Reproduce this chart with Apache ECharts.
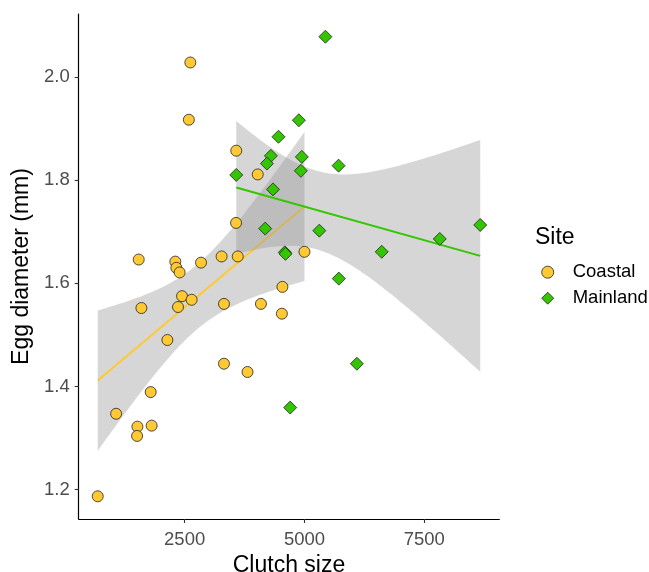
<!DOCTYPE html>
<html>
<head>
<meta charset="utf-8">
<script src="https://cdn.jsdelivr.net/npm/echarts@6/dist/echarts.min.js"></script>
<style>
html,body{margin:0;padding:0;background:#fff;}
#chart{width:649px;height:572px;}
</style>
</head>
<body>
<div id="chart"></div>
<script>
// ---- data ----
const coastalX = [687,1071,1515,1508,1812,1792,1598,2140,2362,2446,2646,1542,2306,2327,2396,2842,3271,3608,3577,4025,3573,5000,4540,2619,2588,3321,4092,4529,3321,3812];
const coastalY = [1.187,1.347,1.322,1.304,1.324,1.389,1.552,1.490,1.554,1.575,1.568,1.646,1.642,1.630,1.621,1.640,1.652,1.652,1.857,1.811,1.717,1.661,1.593,2.028,1.917,1.560,1.560,1.541,1.444,1.428];
const mainlandX = [5437,4883,4458,4300,4217,4946,4925,3577,4344,4181,5310,4592,4604,5712,6612,7823,8667,5717,6094,4702];
const mainlandY = [2.078,1.916,1.884,1.847,1.832,1.845,1.818,1.810,1.782,1.706,1.702,1.660,1.657,1.828,1.661,1.686,1.713,1.609,1.444,1.359];
const xTicks = [2500,5000,7500];
const yTicks = [1.2,1.4,1.6,1.8,2.0];
const siteNames = ['Coastal','Mainland'];

// ---- linear model with 95% confidence band (like geom_smooth(method = "lm")) ----
function tq(df){
  const z=1.959964;
  const g1=(Math.pow(z,3)+z)/4;
  const g2=(5*Math.pow(z,5)+16*Math.pow(z,3)+3*z)/96;
  const g3=(3*Math.pow(z,7)+19*Math.pow(z,5)+17*Math.pow(z,3)-15*z)/384;
  return z+g1/df+g2/(df*df)+g3/(df*df*df);
}
function fitLM(xs, ys){
  const n=xs.length;
  const mx=xs.reduce((a,b)=>a+b,0)/n, my=ys.reduce((a,b)=>a+b,0)/n;
  let sxx=0,sxy=0;
  for(let i=0;i<n;i++){sxx+=(xs[i]-mx)**2; sxy+=(xs[i]-mx)*(ys[i]-my);}
  const b=sxy/sxx, a=my-b*mx;
  let sse=0; for(let i=0;i<n;i++){sse+=(ys[i]-a-b*xs[i])**2;}
  const s=Math.sqrt(sse/(n-2)), t=tq(n-2);
  const x0=Math.min(...xs), x1=Math.max(...xs);
  const upper=[], lower=[];
  const N=80;
  for(let k=0;k<N;k++){
    const x=x0+(x1-x0)*k/(N-1);
    const f=a+b*x;
    const se=s*Math.sqrt(1/n+(x-mx)**2/sxx);
    upper.push([x,f+t*se]); lower.push([x,f-t*se]);
  }
  return {line:[[x0,a+b*x0],[x1,a+b*x1]], upper, lower, x0, my};
}
const fitC = fitLM(coastalX, coastalY);
const fitM = fitLM(mainlandX, mainlandY);

const colC = '#FFC933', colM = '#33C600';
const font = "'Liberation Sans', Arial, sans-serif";

function bandSeries(fit, z){
  return {
    type:'custom', z:z, silent:true, clip:true,
    data:[[fit.x0, fit.my]],
    renderItem:function(params, api){
      const pts = fit.upper.map(p=>api.coord(p)).concat(fit.lower.slice().reverse().map(p=>api.coord(p)));
      return {type:'polygon', shape:{points:pts}, style:{fill:'rgba(153,153,153,0.4)'}};
    }
  };
}
function zip(xs, ys){ return xs.map((x,i)=>[x, ys[i]]); }

const chart = echarts.init(document.getElementById('chart'), null, {renderer:'canvas'});
chart.setOption({
  animation:false,
  backgroundColor:'#fff',
  textStyle:{fontFamily:font},
  grid:{left:78.7, top:14, width:420.6, height:505, containLabel:false, outerBoundsMode:'none'},
  title:{text:'Site', left:535, top:226, padding:0, textStyle:{fontFamily:font, fontSize:23, fontWeight:'normal', color:'#000'}},
  legend:{
    data:siteNames, orient:'vertical', left:541.3, top:262.7, padding:0,
    itemWidth:12, itemHeight:12, itemGap:7,
    itemStyle:{borderWidth:0.8, borderColor:'#222'},
    textStyle:{fontFamily:font, fontSize:18.5, color:'#000', lineHeight:18, padding:[0,0,0,14]}
  },
  xAxis:{
    type:'value', min:290, max:9065,
    name:'Clutch size', nameLocation:'middle', nameGap:33,
    nameTextStyle:{fontFamily:font, fontSize:23, color:'#000'},
    axisLine:{show:true, lineStyle:{color:'#000', width:1.2}},
    axisTick:{show:true, customValues:xTicks, length:4, lineStyle:{color:'#333', width:1.1}},
    axisLabel:{customValues:xTicks, color:'#4d4d4d', fontSize:18.5, margin:11, fontFamily:font, formatter:v=>String(v)},
    splitLine:{show:false}
  },
  yAxis:{
    type:'value', min:1.143, max:2.122,
    name:'Egg diameter (mm)', nameLocation:'middle', nameGap:46, nameRotate:90,
    nameTextStyle:{fontFamily:font, fontSize:23, color:'#000'},
    axisLine:{show:true, lineStyle:{color:'#000', width:1.2}},
    axisTick:{show:true, customValues:yTicks, length:4, lineStyle:{color:'#333', width:1.1}},
    axisLabel:{customValues:yTicks, color:'#4d4d4d', fontSize:18.5, margin:9, fontFamily:font, formatter:v=>v.toFixed(1)},
    splitLine:{show:false}
  },
  series:[
    bandSeries(fitC, 1),
    {name:'fitC', type:'line', z:2, data:fitC.line, showSymbol:false, silent:true, lineStyle:{color:colC, width:2}},
    bandSeries(fitM, 3),
    {name:'fitM', type:'line', z:4, data:fitM.line, showSymbol:false, silent:true, lineStyle:{color:colM, width:2}},
    {name:'Coastal', type:'scatter', z:5, symbol:'circle', symbolSize:11, data:zip(coastalX, coastalY),
     itemStyle:{color:colC, borderColor:'#222', borderWidth:0.8, opacity:1}},
    {name:'Mainland', type:'scatter', z:6, symbol:'diamond', symbolSize:13, data:zip(mainlandX, mainlandY),
     itemStyle:{color:colM, borderColor:'#222', borderWidth:0.8, opacity:1}}
  ]
});
</script>
</body>
</html>
